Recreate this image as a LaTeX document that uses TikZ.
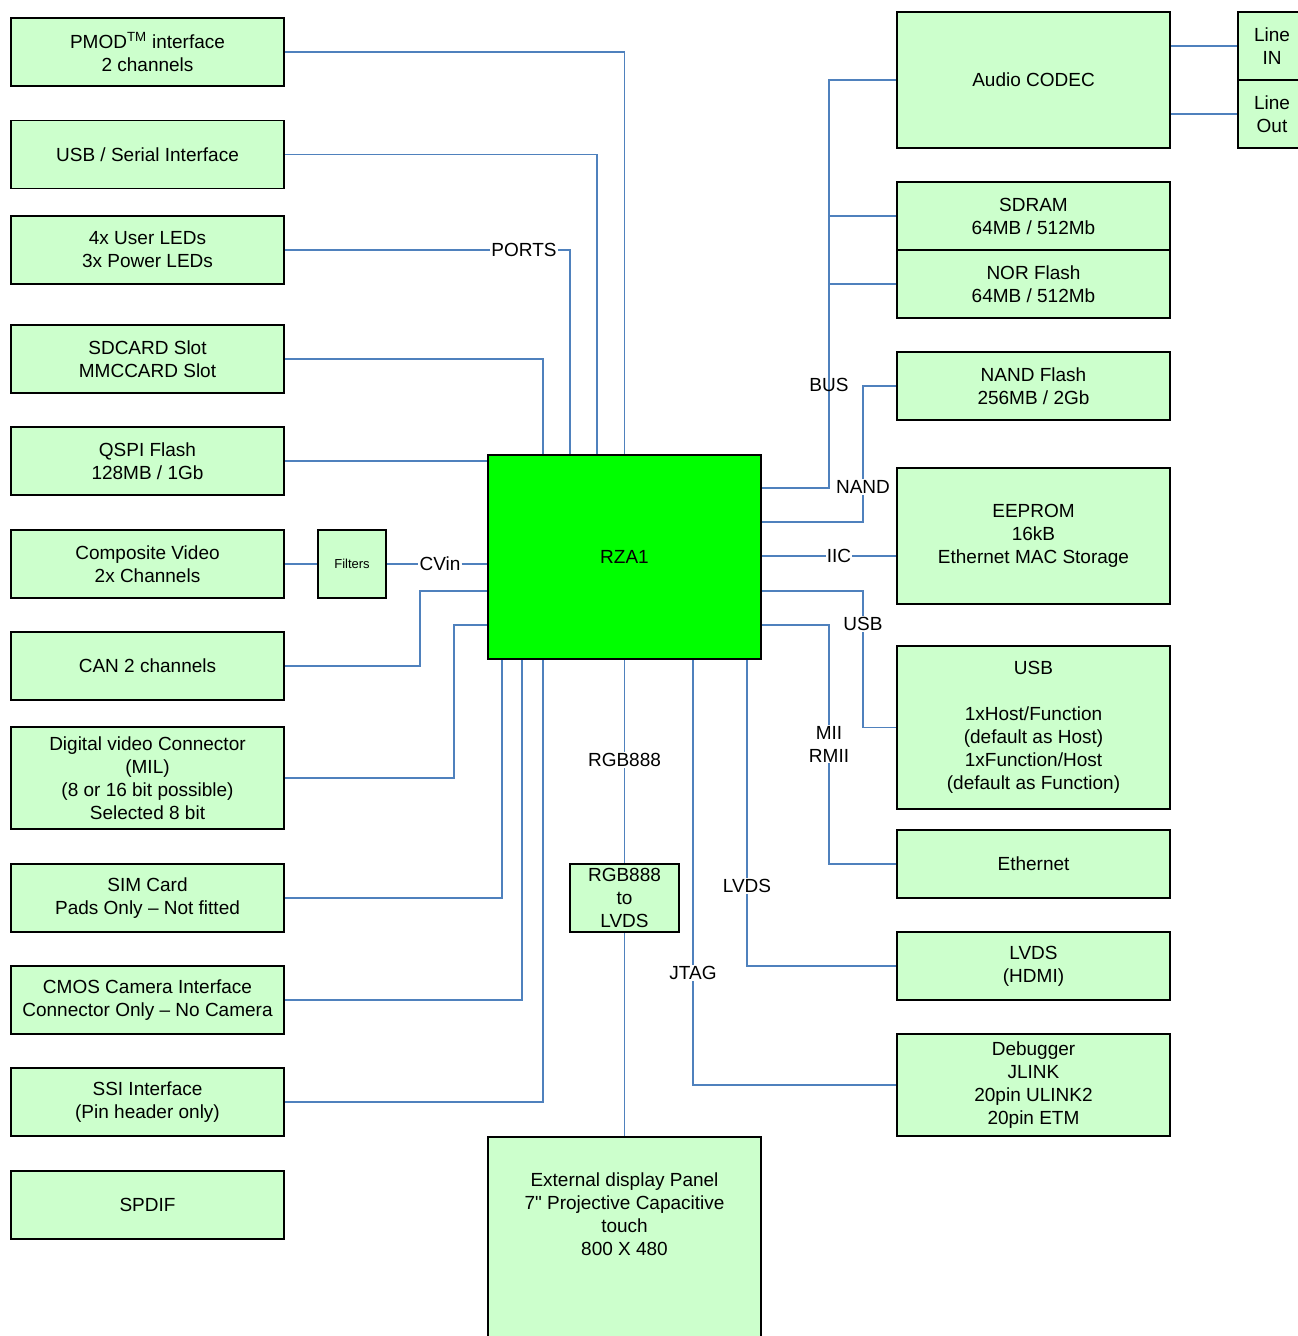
\documentclass[tikz,border=0pt]{standalone}
\usepackage{fontspec}
\setmainfont[Ligatures=TeXOff]{Liberation Sans}
\definecolor{boxgreen}{HTML}{CCFFCC}
\definecolor{rzgreen}{HTML}{00FF00}
\definecolor{wireblue}{HTML}{4F81BD}
\pgfdeclarelayer{bg}
\pgfsetlayers{bg,main}
\begin{document}
\begin{tikzpicture}[x=1pt,y=-1pt,
  f/.style={font=\fontsize{19pt}{23pt}\selectfont},
  box/.style={draw=black, line width=1.6pt, fill=boxgreen, inner sep=0pt, align=center, f},
  lbox/.style={box, minimum width=273pt, minimum height=68pt},
  wire/.style={draw=wireblue, line width=1.5pt},
  lbl/.style={fill=white, inner sep=1pt, align=center, f}]
\useasboundingbox (0,0) rectangle (1298,1336);

% left column
\node[lbox] (pmod) at (147.5,52) {PMOD\textsuperscript{TM} interface\\2 channels};
\node[lbox] (usbser) at (147.5,154.5) {USB / Serial Interface};
\node[lbox] (leds) at (147.5,250) {4x User LEDs\\3x Power LEDs};
\node[lbox] (sd) at (147.5,359) {SDCARD Slot\\MMCCARD Slot};
\node[lbox] (qspi) at (147.5,461) {QSPI Flash\\128MB / 1Gb};
\node[lbox] (comp) at (147.5,564) {Composite Video\\2x Channels};
\node[lbox] (can) at (147.5,666) {CAN 2 channels};
\node[lbox, minimum height=102pt] (dig) at (147.5,778) {Digital video Connector\\(MIL)\\(8 or 16 bit possible)\\Selected 8 bit};
\node[lbox] (sim) at (147.5,898) {SIM Card\\Pads Only – Not fitted};
\node[lbox] (cmos) at (147.5,1000) {CMOS Camera Interface\\Connector Only – No Camera};
\node[lbox] (ssi) at (147.5,1102) {SSI Interface\\(Pin header only)};
\node[lbox] (spdif) at (147.5,1205) {SPDIF};

\node[box, minimum width=68pt, minimum height=68pt, font=\fontsize{13pt}{15pt}\selectfont] (filt) at (352,564) {Filters};

% centre
\node[box, fill=rzgreen, minimum width=273pt, minimum height=204pt] (rza) at (624.5,557) {RZA1};
\node[box, minimum width=109pt, minimum height=68pt] (conv) at (624.5,898) {RGB888\\to\\LVDS};
\node[box, minimum width=273pt, minimum height=220pt, anchor=north] (disp) at (624.5,1136) {};
\node[f, align=center] (disptxt) at (624.5,1214) {External display Panel\\7" Projective Capacitive\\touch\\800 X 480};

% right column
\node[lbox, minimum height=136pt] (codec) at (1033.5,80) {Audio CODEC};
\node[lbox, minimum width=68pt] (linein) at (1272,46) {Line\\IN};
\node[lbox, minimum width=68pt] (lineout) at (1272,114) {Line\\Out};
\node[lbox] (sdram) at (1033.5,216) {SDRAM\\64MB / 512Mb};
\node[lbox] (nor) at (1033.5,284) {NOR Flash\\64MB / 512Mb};
\node[lbox] (nand) at (1033.5,386) {NAND Flash\\256MB / 2Gb};
\node[lbox, minimum height=136pt] (eeprom) at (1033.5,536) {EEPROM\\16kB\\Ethernet MAC Storage};
\node[lbox, minimum height=163pt] (usbdev) at (1033.5,727.5) {USB\\[23pt]1xHost/Function\\(default as Host)\\1xFunction/Host\\(default as Function)};
\node[lbox] (eth) at (1033.5,864) {Ethernet};
\node[lbox] (lvds) at (1033.5,966) {LVDS\\(HDMI)};
\node[lbox, minimum height=102pt] (dbg) at (1033.5,1085) {Debugger\\JLINK\\20pin ULINK2\\20pin ETM};

% labels
\node[lbl] (ports) at (524,250) {PORTS};
\node[lbl] (cvin) at (440,564) {CVin};
\node[lbl] (iic) at (839,556) {IIC};
\node[lbl] (nandl) at (863,487) {NAND};
\node[f, inner sep=1pt] (busl) at (829,385) {BUS};
\node[lbl] (usbl) at (863,624) {USB};
\node[lbl] (miil) at (829,744) {MII\\RMII};
\node[lbl] (rgbl) at (624.5,760) {RGB888};
\node[lbl] (lvdsl) at (747,886) {LVDS};
\node[lbl] (jtagl) at (693,973) {JTAG};

\begin{pgfonlayer}{bg}
\draw[wire] (pmod.east) -| (rza.north);
\draw[wire] (usbser.east) -| (597,0 |- rza.north);
\draw[wire] (leds.east) -- (ports.west);
\draw[wire] (ports.east) -| (570,0 |- rza.north);
\draw[wire] (sd.east) -| (543,0 |- rza.north);
\draw[wire] (qspi.east) -- (qspi.east -| rza.west);
\draw[wire] (comp.east) -- (filt.west);
\draw[wire] (filt.east) -- (cvin.west);
\draw[wire] (cvin.east) -- (cvin.east -| rza.west);
\draw[wire] (can.east) -| (420,591) -- (rza.west |- 0,591);
\draw[wire] (dig.east) -| (454,625) -- (rza.west |- 0,625);
\draw[wire] (sim.east) -| (502,0 |- rza.south);
\draw[wire] (cmos.east) -| (522,0 |- rza.south);
\draw[wire] (ssi.east) -| (543,0 |- rza.south);
\draw[wire] (rza.south) -- (rgbl.north);
\draw[wire] (rgbl.south) -- (conv.north);
\draw[wire] (conv.south) -- (disp.north);
\draw[wire] (693,0 |- rza.south) -- (jtagl.north);
\draw[wire] (jtagl.south) |- (dbg.west);
\draw[wire] (747,0 |- rza.south) -- (lvdsl.north);
\draw[wire] (lvdsl.south) |- (lvds.west);
\draw[wire] (rza.east |- 0,488) -| (829,80) -- (codec.west);
\draw[wire] (829,216) -- (sdram.west);
\draw[wire] (829,284) -- (nor.west);
\draw[wire] (rza.east |- 0,522) -| (nandl.south);
\draw[wire] (nandl.north) |- (nand.west);
\draw[wire] (rza.east |- iic.west) -- (iic.west);
\draw[wire] (iic.east) -- (eeprom.west |- iic.east);
\draw[wire] (rza.east |- 0,591) -| (usbl.north);
\draw[wire] (usbl.south) |- (usbdev.west);
\draw[wire] (rza.east |- 0,625) -| (miil.north);
\draw[wire] (miil.south) |- (eth.west);
\draw[wire] (codec.east |- linein.west) -- (linein.west);
\draw[wire] (codec.east |- lineout.west) -- (lineout.west);
\end{pgfonlayer}
\end{tikzpicture}
\end{document}
